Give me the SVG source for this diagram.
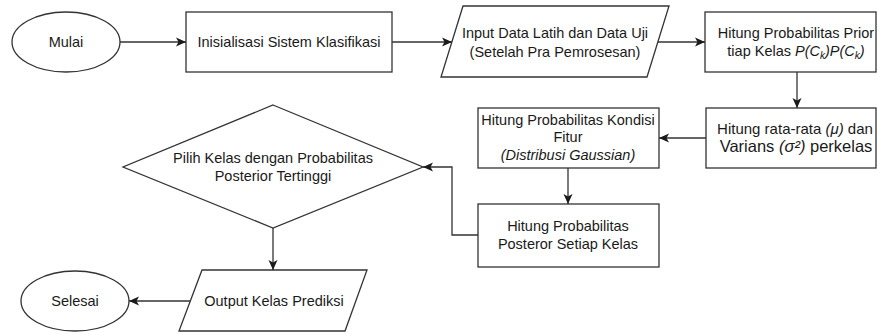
<svg xmlns="http://www.w3.org/2000/svg" width="877" height="334" viewBox="0 0 877 334">
<style>
.s{fill:#fff;stroke:#333;stroke-width:1.3}
.t{font-family:"Liberation Sans",Arial,sans-serif;font-size:14.5px;fill:#1a1a1a;text-anchor:middle}
.i{font-style:italic}
.c{fill:none;stroke:#333;stroke-width:1.3;marker-end:url(#a)}
</style>
<defs>
<marker id="a" markerUnits="userSpaceOnUse" markerWidth="12" markerHeight="10" refX="10" refY="5" orient="auto">
<path d="M0,0.5 L10,5 L0,9.5 L2.5,5 Z" fill="#1a1a1a"/>
</marker>
</defs>
<rect width="877" height="334" fill="#fff"/>
<g id="mulai">
<ellipse class="s" cx="66" cy="42" rx="54" ry="30"/>
<text class="t" x="66" y="47">Mulai</text>
</g>
<g id="inisialisasi">
<rect class="s" x="186" y="12" width="206" height="60"/>
<text class="t" x="289" y="47">Inisialisasi Sistem Klasifikasi</text>
</g>
<g id="input">
<polygon class="s" points="463,6 669,6 647,77 441,77"/>
<text class="t" x="555" y="38">Input Data Latih dan Data Uji</text>
<text class="t" x="555" y="57">(Setelah Pra Pemrosesan)</text>
</g>
<g id="prior">
<rect class="s" x="705" y="12" width="171" height="60"/>
<text class="t" x="796" y="38">Hitung Probabilitas Prior</text>
<text class="t" x="796" y="56">tiap Kelas <tspan class="i">P(C<tspan dy="3" font-size="10">k</tspan><tspan dy="-3">)P(C</tspan><tspan dy="3" font-size="10">k</tspan><tspan dy="-3">)</tspan></tspan></text>
</g>
<g id="ratarata">
<rect class="s" x="706" y="108" width="170" height="60"/>
<text class="t" x="795" y="134" style="font-size:15px">Hitung rata-rata <tspan class="i">(μ)</tspan> dan</text>
<text class="t" x="796" y="152" style="font-size:16.5px">Varians <tspan class="i">(σ²)</tspan> perkelas</text>
</g>
<g id="kondisi">
<rect class="s" x="478" y="108" width="181" height="60"/>
<text class="t" x="568" y="125">Hitung Probabilitas Kondisi</text>
<text class="t" x="568" y="142">Fitur</text>
<text class="t i" x="568" y="160">(Distribusi Gaussian)</text>
</g>
<g id="posterior">
<rect class="s" x="478" y="204" width="181" height="63"/>
<text class="t" x="568" y="231">Hitung Probabilitas</text>
<text class="t" x="568" y="249">Posteror Setiap Kelas</text>
</g>
<g id="pilih">
<polygon class="s" points="273,105 423,167 273,228 123,167"/>
<text class="t" x="273" y="163">Pilih Kelas dengan Probabilitas</text>
<text class="t" x="273" y="181">Posterior Tertinggi</text>
</g>
<g id="output">
<polygon class="s" points="202,270 367,270 345,331 179,331"/>
<text class="t" x="274" y="306">Output Kelas Prediksi</text>
</g>
<g id="selesai">
<ellipse class="s" cx="75" cy="301" rx="54" ry="30"/>
<text class="t" x="75" y="306">Selesai</text>
</g>
<g id="connectors">
<path class="c" d="M120,42 H186"/>
<path class="c" d="M392,42 H452"/>
<path class="c" d="M658,42 H705"/>
<path class="c" d="M797,72 V108"/>
<path class="c" d="M706,138 H659"/>
<path class="c" d="M568,168 V204"/>
<path class="c" d="M478,235 H452 V167 H423"/>
<path class="c" d="M273,228 V270"/>
<path class="c" d="M190,301 H129"/>
</g>
</svg>
